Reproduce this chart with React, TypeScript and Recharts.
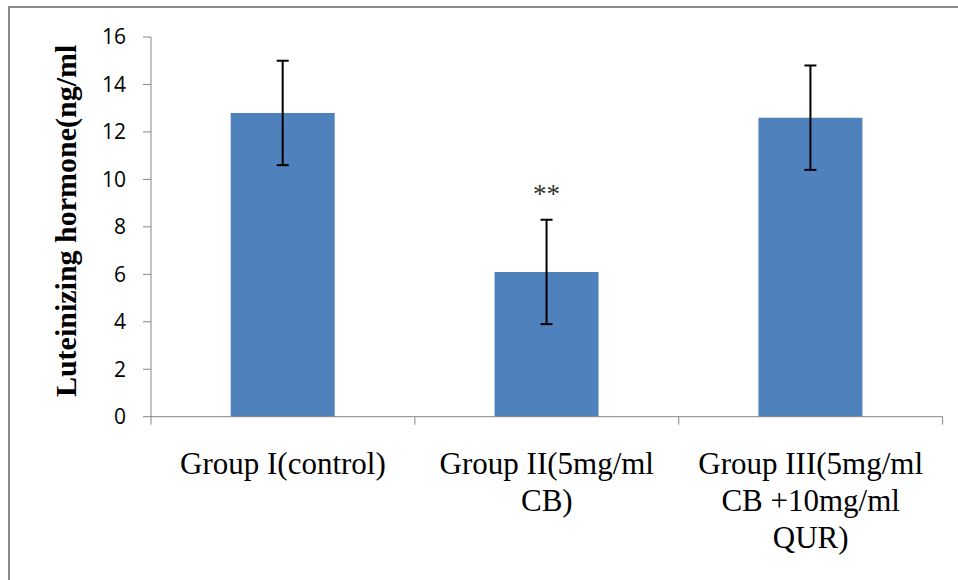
import React from "react";
import { BarChart, Bar, XAxis, YAxis, ErrorBar, LabelList, Label } from "recharts";

const categories = ["Group I(control)", "Group II(5mg/ml\nCB)", "Group III(5mg/ml\nCB +10mg/ml\nQUR)"];
const means = [12.8, 6.1, 12.6];
const errors = [2.2, 2.2, 2.2];
const sigMarks = ["", "**", ""];
const yTicks = [0, 2, 4, 6, 8, 10, 12, 14, 16];
const yTitle = "Luteinizing hormone(ng/ml";

const data = categories.map((c, i) => ({ name: c, value: means[i], err: errors[i], sig: sigMarks[i] }));

const AXIS = "#868686";
const SERIF = "'Liberation Serif', 'Times New Roman', serif";

const XTick = (props: any) => {
  const { x, y, payload, index, width, visibleTicksCount } = props;
  const half = width / visibleTicksCount / 2;
  const lines = String(payload.value).split("\n");
  return (
    <g>
      <line x1={x - half} x2={x - half} y1={y} y2={y + 8} stroke={AXIS} strokeWidth={1} />
      {index === visibleTicksCount - 1 && (
        <line x1={x + half} x2={x + half} y1={y} y2={y + 8} stroke={AXIS} strokeWidth={1} />
      )}
      <text x={x} y={y + 57} textAnchor="middle" fontFamily={SERIF} fontSize={31} fill="#000">
        {lines.map((l, i) => (
          <tspan key={i} x={x} dy={i === 0 ? 0 : 37}>
            {l}
          </tspan>
        ))}
      </text>
    </g>
  );
};

const renderYTitle = (props: any) => {
  const vb = props.viewBox;
  const bx = vb.x + 76.5;
  const cy = vb.y + vb.height / 2 - 6;
  return (
    <text
      x={bx}
      y={cy}
      transform={`rotate(-90, ${bx}, ${cy})`}
      textAnchor="middle"
      fontFamily={SERIF}
      fontWeight="bold"
      fontSize={30}
      fill="#000"
    >
      {yTitle}
    </text>
  );
};

const renderSig = (props: any) => {
  const { x, y, width, height, value, index } = props;
  if (!value) return null;
  const d = data[index];
  const pxPerUnit = height / d.value;
  const errTop = y - d.err * pxPerUnit;
  return (
    <text x={x + width / 2} y={errTop - 17} textAnchor="middle" fontFamily={SERIF} fontSize={27} fill="#333">
      {value}
    </text>
  );
};

export default function App() {
  return (
    <div style={{ position: "absolute", left: 0, top: 0, width: 958, height: 580, overflow: "hidden", background: "#fff" }}>
      <div
        style={{
          position: "absolute",
          left: 8,
          top: 6,
          width: 1000,
          height: 700,
          border: "2px solid #8a8a8a",
          boxSizing: "border-box",
        }}
      />
      <div style={{ position: "absolute", left: 0, top: 0 }}>
        <BarChart
          width={958}
          height={580}
          data={data}
          margin={{ top: 37, right: 15.4, bottom: 13.3, left: 0 }}
          barCategoryGap="30.2%"
        >
          <XAxis
            dataKey="name"
            interval={0}
            height={150}
            tickSize={0}
            tickMargin={0}
            tickLine={false}
            axisLine={{ stroke: AXIS, strokeWidth: 1 }}
            tick={<XTick />}
          />
          <YAxis
            domain={[0, 16]}
            ticks={yTicks}
            width={151}
            tickSize={8}
            tickMargin={17}
            tickLine={{ stroke: AXIS }}
            axisLine={{ stroke: AXIS, strokeWidth: 1 }}
            tick={{ fill: "#000", fontSize: 21, fontFamily: "'Open Sans', 'Liberation Sans', Arial, sans-serif" }}
            interval={0}
          >
            <Label content={renderYTitle} />
          </YAxis>
          <Bar dataKey="value" fill="#4F81BD" isAnimationActive={false}>
            <ErrorBar dataKey="err" width={6} stroke="#000" strokeWidth={2} direction="y" />
            <LabelList dataKey="sig" content={renderSig} />
          </Bar>
        </BarChart>
      </div>
    </div>
  );
}
